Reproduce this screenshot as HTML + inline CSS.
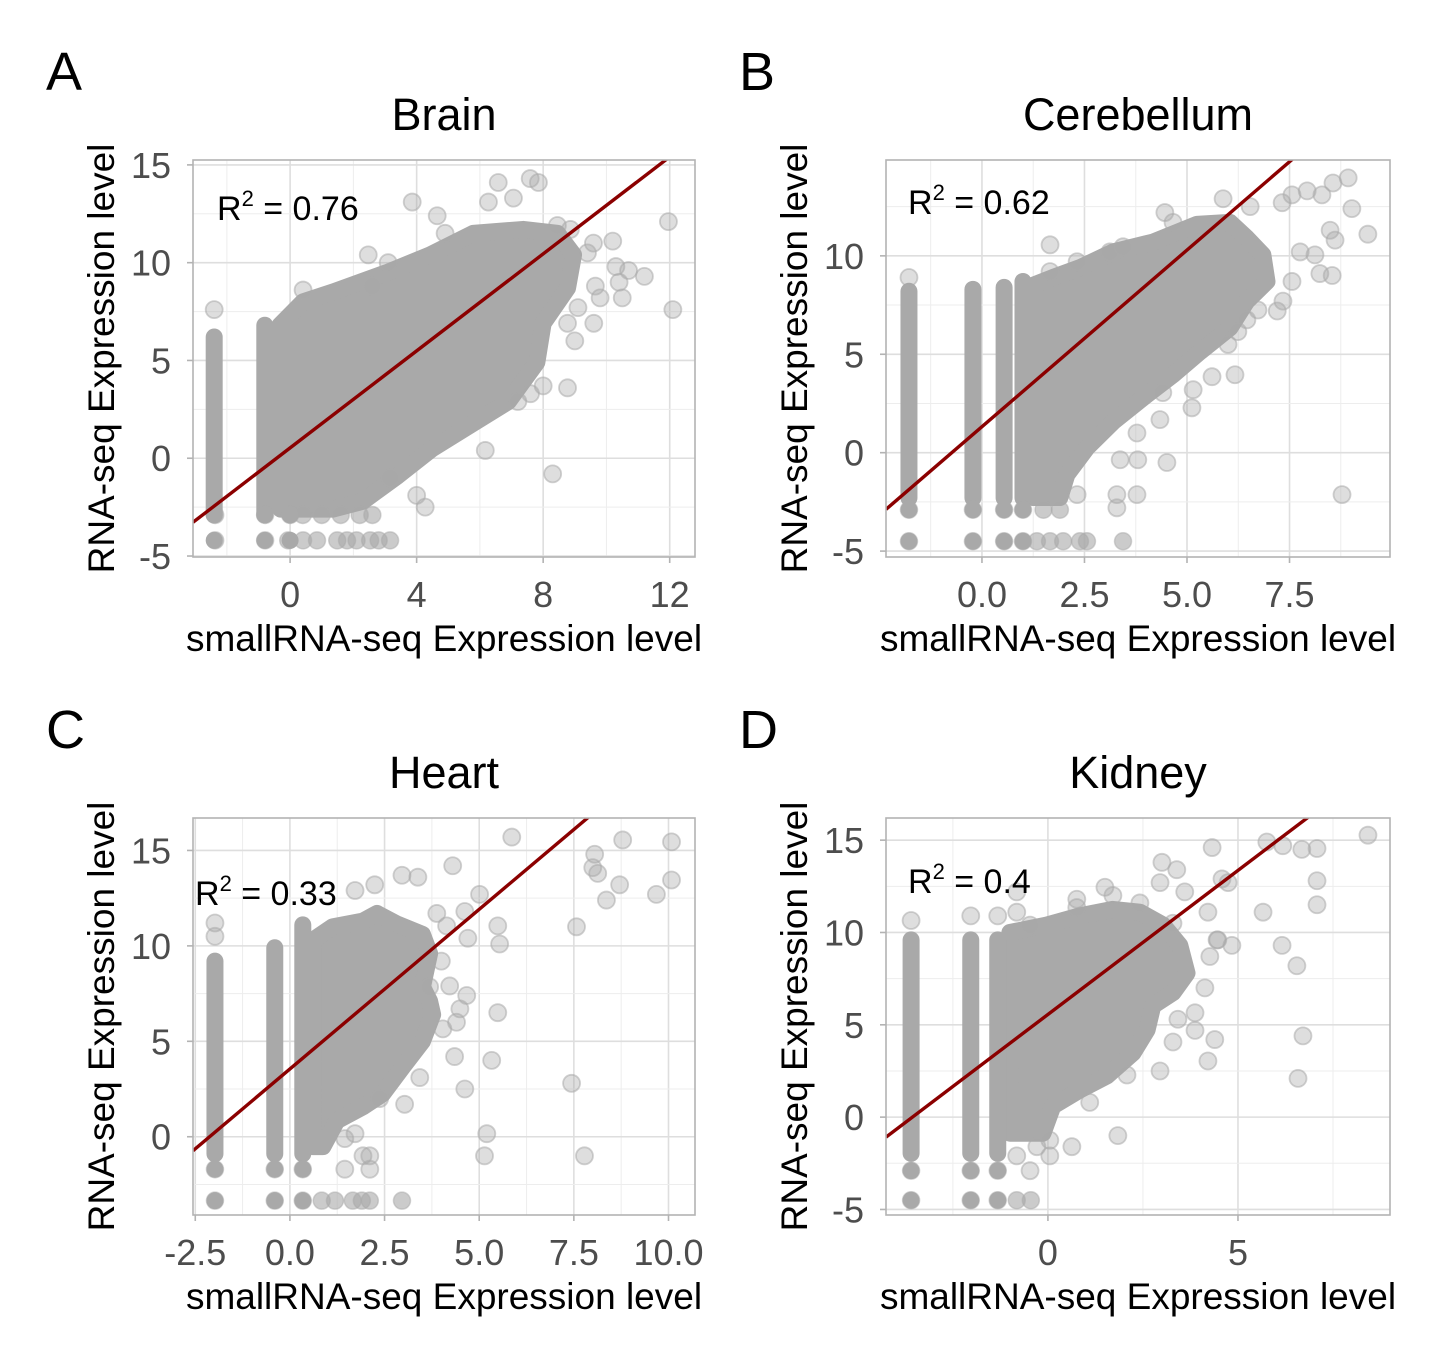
<!DOCTYPE html>
<html><head><meta charset="utf-8">
<style>
html,body{margin:0;padding:0;background:#fff;}
svg{display:block;font-family:"Liberation Sans",Arial,sans-serif;}
</style></head>
<body>
<svg id="fig" width="1437" height="1362" viewBox="0 0 1437 1362" xmlns="http://www.w3.org/2000/svg"></svg>
<script>
// ---------- DATA ----------
// Brain
const brainXTicks=[0,4,8,12];
const brainYTicks=[-5,0,5,10,15];
const brainFit=[1.24,0.53]; // slope, intercept
const brainStripes=[[-2.4,-2.9,6.2],[-0.8,-2.9,6.8],[0,-2.9,7.0]];
const brainCloud=[[-0.32,6.8],[0.41,8.0],[1.36,8.5],[3.07,9.5],[4.43,10.4],[5.79,11.5],[7.37,11.7],[8.45,11.5],[8.96,10.4],[8.77,8.7],[8.0,6.9],[7.8,4.9],[6.9,2.9],[5.8,1.8],[4.5,0.5],[3.4,-0.9],[2.3,-2.2],[1.36,-2.6],[0.2,-2.6],[-0.3,-2.6]];
const brainRowLow=[-2.37,-0.79,-0.06,0.41,0.85,1.49,1.8,2.1,2.53,2.8,3.16];
const brainRowMid=[-2.37,-0.79,0,0.4,1.0,1.6,2.2,2.6];
const brainLowY=[-4.2,-2.9];
const brainOutliers=[[7.59,14.3],[7.85,14.1],[6.58,14.1],[3.86,13.1],[4.65,12.4],[6.27,13.1],[7.06,13.3],[11.96,12.1],[4.9,11.5],[8.45,11.9],[10.2,11.1],[9.59,11.0],[2.47,10.4],[3.1,10.0],[11.2,9.3],[10.3,9.8],[10.7,9.6],[10.4,9.0],[9.8,8.2],[10.5,8.2],[12.1,7.6],[9.65,8.8],[9.1,7.7],[9.6,6.9],[9.0,6.0],[8.77,3.6],[8.0,3.7],[8.3,-0.8],[6.17,0.4],[4.0,-1.9],[4.27,-2.5],[0.41,8.6],[2.6,8.8],[7.2,2.9],[7.6,3.3],[3.16,-1.0],[8.77,6.9],[9.4,10.5],[8.86,11.7],[-2.4,7.6]];
// Cerebellum
const cereXTicks=[0,2.5,5,7.5];
const cereYTicks=[-5,0,5,10];
const cereFit=[1.795,1.32];
const cereStripes=[[-1.78,-2.3,8.2],[-0.22,-2.3,8.3],[0.54,-2.3,8.4],[1.0,-2.3,8.7]];
const cereCloud=[[1.24,-2.1],[1.24,8.5],[1.73,8.9],[2.39,9.4],[3.2,10.2],[4.17,10.7],[5.24,11.6],[6.05,11.7],[6.46,10.9],[6.85,10.05],[6.95,8.7],[6.46,7.7],[6.05,6.35],[5.32,5.13],[4.66,3.96],[4.02,2.94],[3.2,1.57],[2.56,0.25],[2.07,-1.12],[1.9,-2.28],[1.24,-2.28]];
const cereRowLow=[-1.78,-0.22,0.54,1.0,1.34,1.66,1.98,2.39,2.56,3.44];
const cereRowMid=[-1.78,-0.22,0.54,1.0,1.5,1.9];
const cereLowY=[-4.5,-2.9];
const cereOutliers=[[8.93,13.96],[8.56,13.7],[7.93,13.3],[8.29,13.1],[7.56,13.1],[7.32,12.7],[9.02,12.4],[9.41,11.1],[8.49,11.3],[8.61,10.8],[5.88,12.9],[6.54,12.5],[4.46,12.2],[4.66,11.7],[8.12,10.05],[7.76,10.2],[8.24,9.1],[8.54,9.0],[7.56,8.7],[7.34,7.7],[7.2,7.2],[6.73,7.25],[6.46,6.75],[6.24,6.15],[6.0,5.5],[6.17,3.96],[5.61,3.86],[5.15,3.2],[5.12,2.28],[4.41,3.05],[4.34,1.68],[4.51,-0.5],[3.78,1.0],[3.8,-0.36],[3.37,-0.36],[3.29,-2.13],[3.78,-2.13],[3.29,-2.8],[8.78,-2.13],[2.32,-2.13],[1.66,10.56],[2.32,9.7],[1.66,9.2],[3.12,10.2],[3.44,10.46],[-1.78,8.9]];
// Heart
const heartXTicks=[-2.5,0,2.5,5,7.5,10];
const heartYTicks=[0,5,10,15];
const heartFit=[1.673,3.55];
const heartStripes=[[-1.98,-0.9,9.2],[-0.4,-0.9,9.9],[0.34,-0.9,11.1]];
const heartCloud=[[0.61,-0.2],[0.61,10.3],[1.13,11.0],[1.93,11.3],[2.3,11.7],[2.82,11.15],[3.5,10.6],[3.69,9.6],[3.5,7.85],[3.69,7.1],[3.77,6.4],[3.5,5.0],[2.98,3.66],[2.45,2.25],[1.93,1.57],[1.24,0.84],[0.87,-0.52],[0.61,-0.52]];
const heartRowLow=[-1.98,-0.4,0.34,0.84,1.19,1.66,1.9,2.11,2.96];
const heartRowMid=[-1.98,-0.4,0.34];
const heartLowY=[-3.35,-1.7];
const heartOutliers=[[5.86,15.7],[8.79,15.55],[10.08,15.45],[8.05,14.8],[8.0,14.1],[8.13,13.8],[8.71,13.2],[10.08,13.45],[8.36,12.4],[9.68,12.7],[4.3,14.2],[5.01,12.7],[7.57,11.0],[5.49,11.05],[5.54,10.1],[4.7,10.4],[4.62,11.8],[2.96,13.7],[3.38,13.6],[2.24,13.2],[1.72,12.9],[5.49,6.5],[5.33,4.0],[4.35,4.2],[4.62,2.5],[7.44,2.8],[5.2,0.16],[5.14,-1.0],[7.78,-1.0],[4.67,7.4],[4.49,6.7],[4.22,7.9],[4.4,6.0],[3.43,3.1],[3.03,1.7],[2.37,2.0],[1.72,0.16],[1.45,-0.1],[1.93,-1.0],[2.11,-1.0],[1.45,-1.7],[2.11,-1.7],[4.0,9.2],[4.14,11.05],[3.88,11.7],[3.69,7.85],[4.04,5.65],[-1.98,11.2],[-1.98,10.5]];
// Kidney
const kidXTicks=[0,5];
const kidYTicks=[-5,0,5,10,15];
const kidFit=[1.56,5.56];
const kidStripes=[[-3.6,-1.96,9.6],[-2.03,-1.96,9.6],[-1.32,-1.96,9.6]];
const kidCloud=[[-1.0,-0.87],[-1.0,10.0],[-0.03,10.4],[0.84,10.9],[1.71,11.25],[2.42,11.1],[3.03,10.4],[3.47,9.3],[3.66,7.8],[3.29,6.74],[2.76,6.03],[2.61,4.73],[2.24,3.48],[1.55,2.23],[0.84,1.47],[0.13,0.6],[-0.13,-0.87],[-1.0,-0.87]];
const kidRowLow=[-3.6,-2.03,-1.32,-0.82,-0.45];
const kidRowMid=[-3.6,-2.03,-1.32];
const kidLowY=[-4.5,-2.9];
const kidOutliers=[[8.42,15.27],[5.76,14.9],[6.18,14.7],[6.68,14.5],[7.08,14.55],[4.32,14.6],[3.0,13.8],[3.39,13.4],[2.95,12.7],[4.58,12.9],[4.74,12.7],[7.08,12.8],[7.08,11.5],[5.66,11.1],[3.6,12.2],[1.5,12.45],[1.71,12.0],[0.76,11.8],[0.76,11.35],[2.42,11.6],[4.21,11.1],[6.16,9.3],[6.55,8.2],[4.84,9.3],[4.45,9.6],[4.26,8.7],[4.13,7.0],[3.87,5.65],[3.42,5.3],[3.87,4.7],[4.39,4.2],[3.29,4.07],[4.21,3.04],[6.71,4.4],[6.58,2.1],[2.95,2.5],[2.08,2.28],[1.1,0.8],[1.84,-1.0],[0.63,-1.6],[0.05,-1.25],[0.05,-2.1],[-0.47,-2.9],[-0.82,-2.1],[-0.29,-1.6],[-0.82,12.2],[-0.82,11.1],[-1.32,10.9],[-0.47,10.4],[3.29,10.5],[4.47,9.6],[-3.6,10.65],[-2.03,10.9]];

// ---------- RENDER ----------
const NS="http://www.w3.org/2000/svg";
const svg=document.getElementById('fig');
function mk(tag,attrs,parent){const e=document.createElementNS(NS,tag);for(const k in attrs)e.setAttribute(k,attrs[k]);(parent||svg).appendChild(e);return e;}
const PT='#a9a9a9', R=8.5;

function panel(p){
  const g=mk('g',{});
  
  
  const sx=v=>p.L+(v-p.xd[0])/(p.xd[1]-p.xd[0])*(p.R-p.L);
  const sy=v=>p.B-(v-p.yd[0])/(p.yd[1]-p.yd[0])*(p.B-p.T);
  const clipId='clip-'+p.name;
  const cp=mk('clipPath',{id:clipId},g);mk('rect',{x:p.L,y:p.T,width:p.R-p.L,height:p.B-p.T},cp);
  const grid=mk('g',{},g);
  
  
  const xs=p.xt[1]-p.xt[0], ys=p.yt[1]-p.yt[0];
  for(let v=p.xt[0]-xs*3;v<=p.xd[1]+xs;v+=xs/2){const x=sx(v);if(x<p.L||x>p.R)continue;
    const major=p.xt.some(t=>Math.abs(t-v)<1e-6);
    mk('line',{x1:x,x2:x,y1:p.T,y2:p.B,stroke:major?'#dedede':'#ededed','stroke-width':major?1.6:1},grid);}
  for(let v=p.yt[0]-ys*3;v<=p.yd[1]+ys;v+=ys/2){const y=sy(v);if(y<p.T||y>p.B)continue;
    const major=p.yt.some(t=>Math.abs(t-v)<1e-6);
    mk('line',{x1:p.L,x2:p.R,y1:y,y2:y,stroke:major?'#dedede':'#ededed','stroke-width':major?1.6:1},grid);}
  const pts=mk('g',{'clip-path':'url(#'+clipId+')'},g);
  
  
  const cloud=mk('polygon',{points:p.cloud.map(c=>sx(c[0])+','+sy(c[1])).join(' '),fill:PT,stroke:PT,'stroke-width':2*R,'stroke-linejoin':'round'},pts);
  
  
  p.stripes.forEach(s=>{
    const st=mk('rect',{x:sx(s[0])-R,y:sy(s[2])-R,width:2*R,height:sy(s[1])-sy(s[2])+2*R,rx:R,ry:R,fill:PT},pts);
    
    
  });
  [p.rowLow,p.rowMid].forEach((row,i)=>{
    row.forEach(xv=>{
      const c=mk('circle',{cx:sx(xv),cy:sy(p.lowY[i]),r:R,fill:PT,'fill-opacity':0.6,stroke:PT,'stroke-opacity':0.5,'stroke-width':1.5},pts);
      
      
    });
  });
  p.stripes.forEach(s=>{p.lowY.forEach(yv=>{
    const c=mk('circle',{cx:sx(s[0]),cy:sy(yv),r:R,fill:PT},pts);
    
    
  });});
  p.out.forEach(o=>{
    const c=mk('circle',{cx:sx(o[0]),cy:sy(o[1]),r:R,fill:PT,'fill-opacity':0.38,stroke:PT,'stroke-opacity':0.55,'stroke-width':1.8},pts);
    
    
  });
  const x0=p.xd[0],x1=p.xd[1];
  const fl=mk('line',{x1:sx(x0),y1:sy(p.fit[0]*x0+p.fit[1]),x2:sx(x1),y2:sy(p.fit[0]*x1+p.fit[1]),stroke:'#8b0000','stroke-width':3.4},pts);
  
  
  const bd=mk('rect',{x:p.L,y:p.T,width:p.R-p.L,height:p.B-p.T,fill:'none',stroke:'#b3b3b3','stroke-width':1.6},g);
  
  
  p.xt.forEach(t=>{const x=sx(t);
    mk('line',{x1:x,x2:x,y1:p.B,y2:p.B+6,stroke:'#b3b3b3','stroke-width':1.6},g);
    const tx=mk('text',{x:x,y:p.B+50,'text-anchor':'middle','font-size':36,fill:'#4d4d4d'},g);
    tx.textContent=p.xfmt(t);
    
    });
  p.yt.forEach(t=>{const y=sy(t);
    mk('line',{x1:p.L-6,x2:p.L,y1:y,y2:y,stroke:'#b3b3b3','stroke-width':1.6},g);
    const tx=mk('text',{x:p.L-22,y:y+13,'text-anchor':'end','font-size':36,fill:'#4d4d4d'},g);
    tx.textContent=String(t);
    
    });
  const cx=(p.L+p.R)/2, cy=(p.T+p.B)/2;
  const tt=mk('text',{x:cx,y:p.T-30,'text-anchor':'middle','font-size':45,fill:'#000'},g);
  tt.textContent=p.title;
  
  
  const xl=mk('text',{x:cx,y:p.B+94,'text-anchor':'middle','font-size':37,fill:'#000'},g);
  xl.textContent='smallRNA-seq Expression level';
  
  
  const yl=mk('text',{x:0,y:0,'text-anchor':'middle','font-size':37,fill:'#000',transform:'translate('+(p.L-79)+','+cy+') rotate(-90)'},g);
  yl.textContent='RNA-seq Expression level';
  
  
  const lt=mk('text',{x:p.L-147,y:p.T-70,'font-size':54,fill:'#000'},g);
  lt.textContent=p.letter;
  
  
  const r2=mk('text',{x:p.r2x,y:p.r2y,'font-size':34,fill:'#000'},g);
  
  
  r2.innerHTML='R<tspan dy="-14" font-size="22">2</tspan><tspan dy="14"> = '+p.r2+'</tspan>';
}
const f1=v=>v.toFixed(1), f0=v=>String(v);
panel({name:'brain',title:'Brain',letter:'A',L:193,R:695,T:160,B:557,xd:[-3.07,12.8],yd:[-5.05,15.25],xt:brainXTicks,yt:brainYTicks,xfmt:f0,fit:brainFit,stripes:brainStripes,cloud:brainCloud,rowLow:brainRowLow,rowMid:brainRowMid,lowY:brainLowY,out:brainOutliers,r2:'0.76',r2x:217,r2y:220});
panel({name:'cerebellum',title:'Cerebellum',letter:'B',L:886,R:1390,T:160,B:557,xd:[-2.34,9.95],yd:[-5.3,14.87],xt:cereXTicks,yt:cereYTicks,xfmt:f1,fit:cereFit,stripes:cereStripes,cloud:cereCloud,rowLow:cereRowLow,rowMid:cereRowMid,lowY:cereLowY,out:cereOutliers,r2:'0.62',r2x:908,r2y:214});
panel({name:'heart',title:'Heart',letter:'C',L:193,R:695,T:818,B:1215,xd:[-2.56,10.7],yd:[-4.1,16.7],xt:heartXTicks,yt:heartYTicks,xfmt:f1,fit:heartFit,stripes:heartStripes,cloud:heartCloud,rowLow:heartRowLow,rowMid:heartRowMid,lowY:heartLowY,out:heartOutliers,r2:'0.33',r2x:195,r2y:905});
panel({name:'kidney',title:'Kidney',letter:'D',L:886,R:1390,T:818,B:1215,xd:[-4.26,9.0],yd:[-5.3,16.2],xt:kidXTicks,yt:kidYTicks,xfmt:f0,fit:kidFit,stripes:kidStripes,cloud:kidCloud,rowLow:kidRowLow,rowMid:kidRowMid,lowY:kidLowY,out:kidOutliers,r2:'0.4',r2x:908,r2y:893});
</script>
</body></html>
